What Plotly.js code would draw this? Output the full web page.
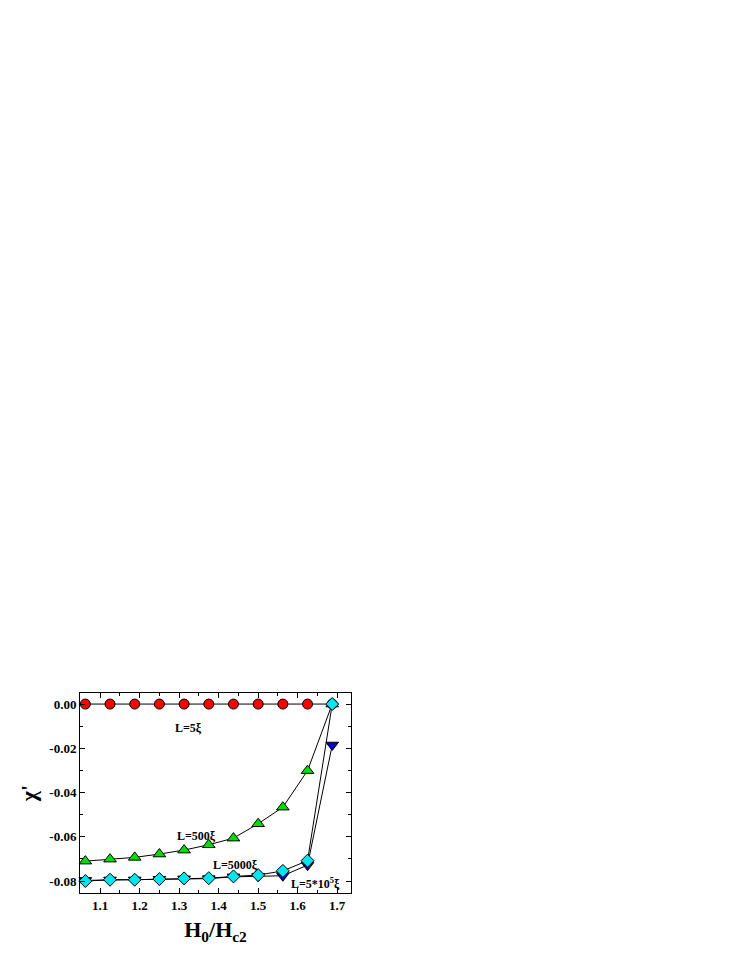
<!DOCTYPE html>
<html>
<head>
<meta charset="utf-8">
<script src="https://cdn.plot.ly/plotly-3.0.1.min.js"></script>
<style>
  body { margin: 0; background: #fff; }
  #plot-area { width: 747px; height: 967px; }
</style>
</head>
<body>
<div id="plot-area"></div>
<script>
// field values H0/Hc2
var hValues = [1.0625, 1.125, 1.1875, 1.25, 1.3125, 1.375, 1.4375, 1.5, 1.5625, 1.625, 1.6875];

// chi' for each sample length
var chiL5 = [0, 0, 0, 0, 0, 0, 0, 0, 0, 0, 0];
var chiL500 = [-0.0710, -0.0701, -0.0693, -0.0678, -0.0660, -0.0636, -0.0606, -0.0541, -0.0466, -0.0301, 0];
var chiL5e5 = [-0.0797, -0.0795, -0.0795, -0.0792, -0.0790, -0.0789, -0.0781, -0.0778, -0.0776, -0.0728, -0.0185];
var chiL5000 = [-0.0800, -0.0794, -0.0794, -0.0791, -0.0788, -0.0787, -0.0779, -0.0773, -0.0754, -0.0708, 0];

var xTicks = [1.1, 1.2, 1.3, 1.4, 1.5, 1.6, 1.7];
var yTicks = [0, -0.02, -0.04, -0.06, -0.08];
var yTickText = ["0.00", "-0.02", "-0.04", "-0.06", "-0.08"];

var font = "Liberation Serif, Times New Roman, serif";

function series(y, symbol, color, size) {
    return {
        x: hValues,
        y: y,
        mode: "lines+markers",
        line: {color: "black", width: 1},
        marker: {symbol: symbol, size: size, color: color, line: {color: "black", width: 1}},
        cliponaxis: false,
        showlegend: false
    };
}

var data = [
    series(chiL5, "circle", "#ff0000", 10),
    series(chiL500, "triangle-up", "#00dd00", 11),
    series(chiL5e5, "triangle-down", "#0000cc", 11),
    series(chiL5000, "diamond", "#00e5ee", 10)
];

var annFont = {family: font, size: 12, color: "black"};

var layout = {
    width: 747,
    height: 967,
    paper_bgcolor: "white",
    plot_bgcolor: "white",
    margin: {l: 80, r: 396, t: 693, b: 74},
    font: {family: font, color: "black"},
    xaxis: {
        range: [1.049, 1.735],
        tickvals: xTicks,
        ticktext: xTicks.map(function (v) { return "<b>" + v.toFixed(1) + "</b>"; }),
        ticks: "inside", ticklen: 5, tickwidth: 1, tickcolor: "black",
        minor: {dtick: 0.05, ticks: "inside", ticklen: 3, tickcolor: "black"},
        showline: true, linecolor: "black", linewidth: 1, mirror: "allticks",
        showgrid: false, zeroline: false,
        tickfont: {family: font, size: 13},
        title: {text: "<b>H<sub>0</sub>/H<sub>c2</sub></b>", font: {family: font, size: 22}, standoff: 10}
    },
    yaxis: {
        range: [-0.0854, 0.005],
        tickvals: yTicks,
        ticktext: yTickText.map(function (t) { return "<b>" + t + "</b>"; }),
        ticks: "inside", ticklen: 5, tickwidth: 1, tickcolor: "black",
        minor: {dtick: 0.01, ticks: "inside", ticklen: 3, tickcolor: "black"},
        showline: true, linecolor: "black", linewidth: 1, mirror: "allticks",
        showgrid: false, zeroline: false,
        tickfont: {family: font, size: 13},
        title: {text: "<b>χ'</b>", font: {family: font, size: 22}, standoff: 6}
    },
    annotations: [
        {x: 1.323, y: -0.0108, text: "<b>L=5ξ</b>", showarrow: false, font: annFont},
        {x: 1.343, y: -0.0595, text: "<b>L=500ξ</b>", showarrow: false, font: annFont},
        {x: 1.442, y: -0.0728, text: "<b>L=5000ξ</b>", showarrow: false, font: annFont},
        {x: 1.644, y: -0.0809, text: "<b>L=5*10<sup>5</sup>ξ</b>", showarrow: false, font: annFont}
    ]
};

Plotly.newPlot("plot-area", data, layout, {displayModeBar: false, staticPlot: true});
</script>
</body>
</html>
